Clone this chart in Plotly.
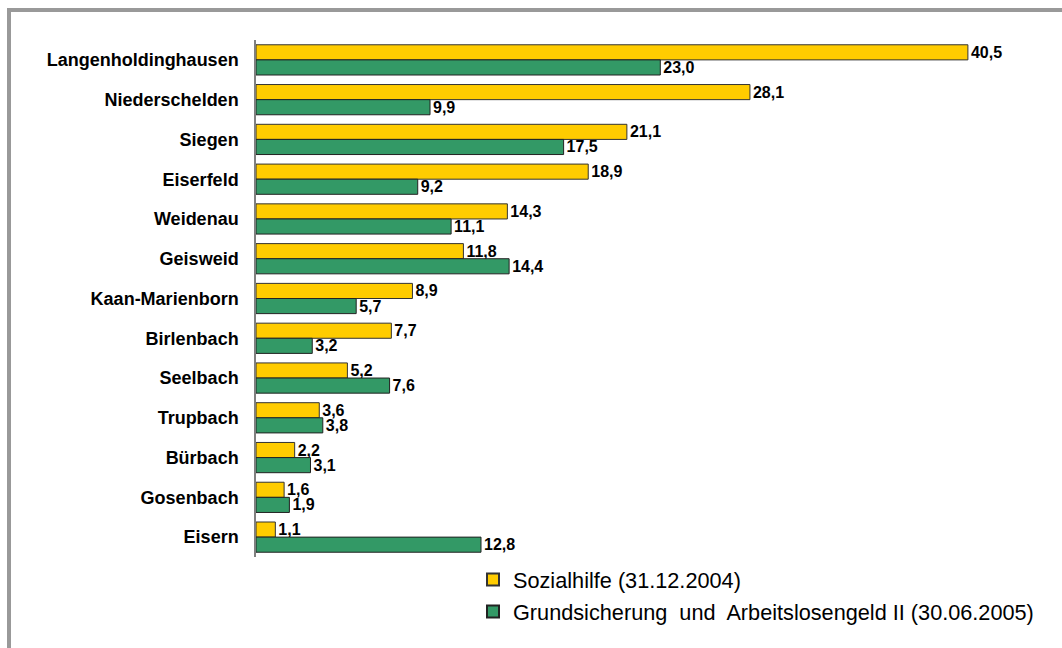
import plotly.graph_objects as go

categories = ["Langenholdinghausen", "Niederschelden", "Siegen", "Eiserfeld", "Weidenau",
              "Geisweid", "Kaan-Marienborn", "Birlenbach", "Seelbach", "Trupbach",
              "Bürbach", "Gosenbach", "Eisern"]
sozialhilfe = [40.5, 28.1, 21.1, 18.9, 14.3, 11.8, 8.9, 7.7, 5.2, 3.6, 2.2, 1.6, 1.1]
grundsicherung = [23.0, 9.9, 17.5, 9.2, 11.1, 14.4, 5.7, 3.2, 7.6, 3.8, 3.1, 1.9, 12.8]
series_names = ["Sozialhilfe (31.12.2004)",
                "Grundsicherung  und  Arbeitslosengeld II (30.06.2005)"]

W, H = 1062, 648
L, T = 256, 40
R = W - 1047
B = H - 557
pw, ph = W - L - R, H - T - B

def px(x):
    return (x - L) / pw

def py(y):
    return (H - B - y) / ph

FONT = "Liberation Sans, Arial"
label_font = dict(family=FONT, size=16, color="black", weight="bold")

fig = go.Figure()
fig.add_trace(go.Bar(
    y=categories, x=sozialhilfe, orientation="h", name=series_names[0],
    marker=dict(color="#FFCC00", line=dict(color="#333333", width=1)),
    texttemplate="%{x:.1f}", textposition="outside", constraintext="none",
    textfont=label_font, cliponaxis=False, legend="legend",
))
fig.add_trace(go.Bar(
    y=categories, x=grundsicherung, orientation="h", name=series_names[1],
    marker=dict(color="#339966", line=dict(color="#222222", width=1)),
    texttemplate="%{x:.1f}", textposition="outside", constraintext="none",
    textfont=label_font, cliponaxis=False, legend="legend2",
))

legend_common = dict(font=dict(family=FONT, size=21.7, color="black"),
                     bgcolor="rgba(0,0,0,0)", xanchor="left", yanchor="middle",
                     itemsizing="constant", tracegroupgap=0)

fig.update_layout(
    width=W, height=H,
    margin=dict(l=L, r=R, t=T, b=B),
    paper_bgcolor="white", plot_bgcolor="white",
    barmode="group", bargap=0.24, bargroupgap=0.0,
    separators=",.",
    font=dict(family=FONT, color="black"),
    xaxis=dict(range=[0, 45], showgrid=False, zeroline=False, showticklabels=False,
               showline=False, ticks=""),
    yaxis=dict(autorange="reversed", showgrid=False, zeroline=False,
               showline=True, linecolor="#808080", linewidth=1.5,
               ticks="", ticklabelstandoff=12,
               tickfont=dict(family=FONT, size=18, color="black", weight="bold")),
    legend=dict(x=px(473), y=py(580), **legend_common),
    legend2=dict(x=px(473), y=py(612), **legend_common),
    showlegend=True,
    shapes=[
        dict(type="line", xref="paper", yref="paper",
             x0=px(7), x1=px(1080), y0=py(10), y1=py(10),
             line=dict(color="#999999", width=4), layer="below"),
        dict(type="line", xref="paper", yref="paper",
             x0=px(9), x1=px(9), y0=py(8), y1=py(680),
             line=dict(color="#999999", width=4), layer="below"),
    ],
)

fig.write_html(
    "out.html",
    config={"displayModeBar": False},
    post_script="document.body.style.margin='0';document.body.style.overflow='hidden';",
)
